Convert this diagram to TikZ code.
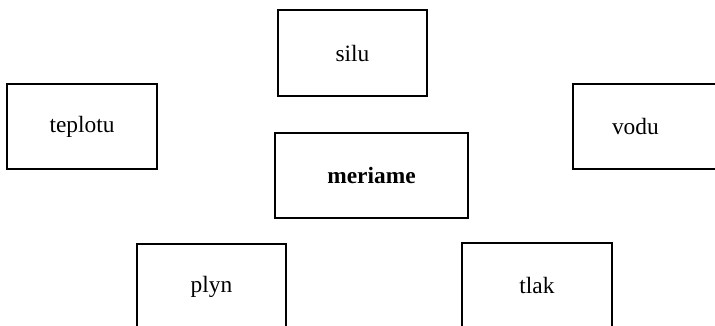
\documentclass[tikz,border=0pt]{standalone}
\usepackage{fontspec}
\setmainfont{Liberation Serif}
\usepackage{tikz}
\usetikzlibrary{positioning}
\newcommand{\pismo}{\fontsize{23.4}{28}\selectfont}
\tikzset{
  pojem/.style={draw=black, line width=1.3pt, fill=white, minimum width=150pt, minimum height=85pt, inner sep=4pt, align=center, font=\pismo},
  stred/.style={pojem, minimum width=193pt, font=\pismo\bfseries},
}

\begin{document}
\begin{tikzpicture}[x=1pt, y=-1pt]
  \useasboundingbox (0,0) rectangle (715,326);
  \clip (0,0) rectangle (715,326);
  \node[stred] (meriame) at (371.5,175.5) {meriame};
  \node[pojem, minimum width=149pt, minimum height=86pt] (silu) at (352.5,53) {silu};
  \node[pojem] (teplotu) at (82,126.5) {teplotu};
  \node[pojem, text width=134pt, inner xsep=8pt, align=left] (vodu) at (648,126.5) {\hspace*{31pt}vodu};
  \node[pojem, minimum width=149pt] (plyn) at (211.5,286.5) {plyn};
  \node[pojem] (tlak) at (537,285.5) {tlak};
\end{tikzpicture}
\end{document}
